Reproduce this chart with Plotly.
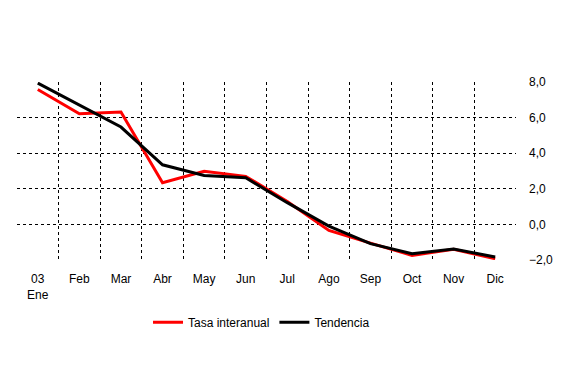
import plotly.graph_objects as go

months = ["03<br>Ene", "Feb", "Mar", "Abr", "May", "Jun", "Jul", "Ago", "Sep", "Oct", "Nov", "Dic"]
tasa_interanual = [7.58, 6.22, 6.31, 2.34, 2.98, 2.70, 1.28, -0.34, -1.05, -1.74, -1.40, -1.93]
tendencia = [7.94, 6.69, 5.47, 3.35, 2.75, 2.62, 1.22, -0.10, -1.08, -1.65, -1.38, -1.83]
y_ticks = [-2, 0, 2, 4, 6, 8]
y_grid = [0, 2, 4, 6]

x = list(range(len(months)))
x_bounds = [i + 0.5 for i in range(len(months) - 1)]

font = dict(family="Liberation Sans, Arial, sans-serif", size=12, color="black")

fig = go.Figure()
fig.add_trace(go.Scatter(x=x, y=tasa_interanual, mode="lines", name="Tasa interanual",
                         line=dict(color="#FF0000", width=3)))
fig.add_trace(go.Scatter(x=x, y=tendencia, mode="lines", name="Tendencia",
                         line=dict(color="#000000", width=3)))

fig.update_layout(
    width=565, height=376,
    margin=dict(l=17, r=47, t=82, b=116),
    paper_bgcolor="white", plot_bgcolor="white",
    font=font,
    separators=",.",
    showlegend=True,
    legend=dict(orientation="h", x=0.49, xanchor="center", y=-0.35, yanchor="middle",
                font=font, bgcolor="rgba(0,0,0,0)", itemwidth=30, tracegroupgap=0),
    xaxis=dict(
        range=[-0.5, len(months) - 0.5],
        tickmode="array", tickvals=x, ticktext=months,
        showgrid=False, zeroline=False, showline=False,
        ticks="", ticklabelstandoff=10,
        minor=dict(tickmode="array", tickvals=x_bounds, showgrid=True,
                   gridcolor="black", gridwidth=1, griddash="3px,3px", ticks=""),
    ),
    yaxis=dict(
        range=[-2, 8], side="right",
        tickmode="array", tickvals=y_ticks, tickformat=".1f",
        showgrid=False, zeroline=False, showline=False,
        ticks="", ticklabelstandoff=12,
        minor=dict(tickmode="array", tickvals=y_grid, showgrid=True,
                   gridcolor="black", gridwidth=1, griddash="3px,3px", ticks=""),
    ),
)

fig.write_html("out.html", config={"displayModeBar": False},
               post_script="document.body.style.margin='0';")
